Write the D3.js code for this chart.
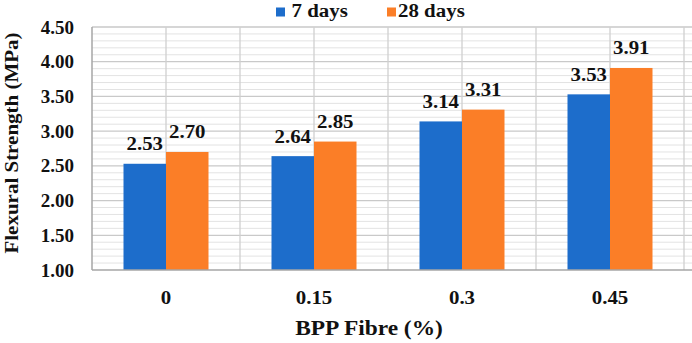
<!DOCTYPE html>
<html><head><meta charset="utf-8">
<script src="https://cdn.jsdelivr.net/npm/d3@7"></script>
<style>
html,body{margin:0;padding:0;background:#fff;}
svg{display:block;}
text{font-family:"Liberation Serif","Times New Roman",serif;font-weight:bold;fill:#111;}
</style></head>
<body>
<svg id="c" width="692" height="343"></svg>
<script>
const categories = ["0", "0.15", "0.3", "0.45"];
const seriesNames = ["7 days", "28 days"];
const days7 = [2.53, 2.64, 3.14, 3.53];
const days28 = [2.70, 2.85, 3.31, 3.91];
const yTicks = [1.00, 1.50, 2.00, 2.50, 3.00, 3.50, 4.00, 4.50];
const colors = ["#1d6dcb", "#fb7e27"];

const svg = d3.select("#c");
const L = 92, R = 684, T = 27, B = 270;

const x = d3.scaleBand().domain(categories).range([L, R]).paddingInner(0).paddingOuter(0);
const y = d3.scaleLinear().domain([1, 4.5]).range([B, T]);
const barW = 42.5;

function stretchedText(g, tx, ty, str, size, anchor, sx) {
  return g.append("text")
    .attr("transform", `translate(${tx},${ty}) scale(${sx},1)`)
    .attr("text-anchor", anchor || "middle")
    .style("font-size", size + "px")
    .text(str);
}

// minor horizontal gridlines
const minor = d3.range(1.1, 4.5, 0.1).filter(v => Math.abs(v*2 - Math.round(v*2)) > 0.01);
svg.append("g").selectAll("line").data(minor).join("line")
  .attr("x1", L).attr("x2", 692).attr("y1", d => y(d)).attr("y2", d => y(d))
  .attr("stroke", "#e3e3e3").attr("stroke-width", 1);
// major horizontal gridlines
svg.append("g").selectAll("line").data(yTicks.slice(1)).join("line")
  .attr("x1", L).attr("x2", 692).attr("y1", d => y(d)).attr("y2", d => y(d))
  .attr("stroke", "#c9c9c9").attr("stroke-width", 1.3);
// vertical gridlines: boundaries and centers
const vlines = [];
categories.forEach((c, i) => { if (i > 0) vlines.push(x(c)); vlines.push(x(c) + x.bandwidth()/2); });
vlines.push(R);
svg.append("g").selectAll("line").data(vlines).join("line")
  .attr("x1", d => d).attr("x2", d => d).attr("y1", T).attr("y2", B)
  .attr("stroke", "#cfcfcf").attr("stroke-width", 1.3);

// bars
const series = [days7, days28];
series.forEach((vals, si) => {
  svg.append("g").selectAll("rect").data(vals).join("rect")
    .attr("x", (d, i) => x(categories[i]) + x.bandwidth()/2 + (si - 1) * barW)
    .attr("y", d => y(d))
    .attr("width", barW)
    .attr("height", d => B - y(d))
    .attr("fill", colors[si]);
});

// axes lines
svg.append("line").attr("x1", L).attr("x2", L).attr("y1", T).attr("y2", B)
  .attr("stroke", "#a6a6a6").attr("stroke-width", 1.5);
svg.append("line").attr("x1", L).attr("x2", 692).attr("y1", B).attr("y2", B)
  .attr("stroke", "#a6a6a6").attr("stroke-width", 1.5);

// data labels
const lg = svg.append("g");
series.forEach((vals, si) => {
  vals.forEach((v, i) => {
    const cx = x(categories[i]) + x.bandwidth()/2 + (si - 0.5) * barW;
    stretchedText(lg, cx, y(v) - 13.5, v.toFixed(2), 19.5, "middle", 1.07);
  });
});

// y tick labels
yTicks.forEach(t => stretchedText(svg, 74, y(t) + 6.5, t.toFixed(2), 19, "end", 1.0));

// x tick labels
categories.forEach(c => stretchedText(svg, x(c) + x.bandwidth()/2, 304, c, 19, "middle", 1.1));

// x title
stretchedText(svg, 369, 335, "BPP Fibre (%)", 20, "middle", 1.17);

// y title
svg.append("text")
  .attr("transform", `translate(18,143) rotate(-90) scale(1,0.9)`)
  .attr("text-anchor", "middle")
  .style("font-size", "21px")
  .text("Flexural Strength (MPa)");

// legend
const legX = [276, 387];
seriesNames.forEach((n, i) => {
  svg.append("rect").attr("x", legX[i]).attr("y", 7.5).attr("width", 9).attr("height", 9).attr("fill", colors[i]);
  stretchedText(svg, legX[i] + 15.5 - (i === 0 ? 0 : 4.5), 17, n, 19, "start", 1.1);
});
</script>
</body></html>
